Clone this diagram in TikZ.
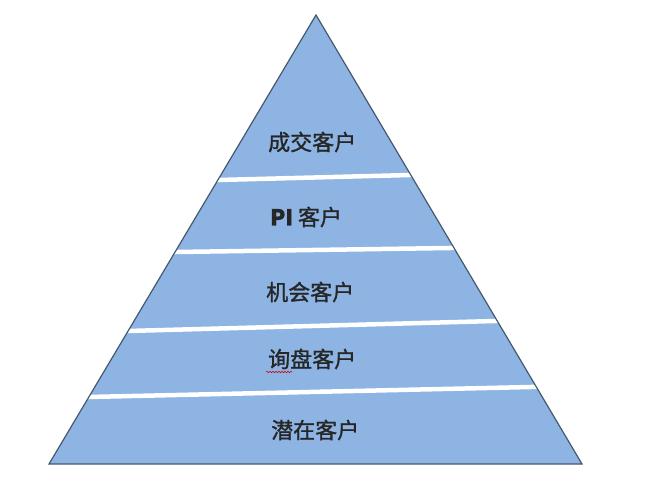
\documentclass[tikz,border=0pt]{standalone}
\usepackage{fontspec}
\newfontfamily\cjk[FakeBold=1.2]{Noto Sans CJK SC}
\newfontfamily\dejavu{DejaVu Sans}
\usetikzlibrary{decorations.pathmorphing}
\definecolor{pyrfill}{RGB}{141,180,226}
\definecolor{pyrline}{RGB}{70,88,110}
\begin{document}
\begin{tikzpicture}[x=1pt,y=-1pt,
  lbl/.style={font=\cjk\fontsize{22}{22}\selectfont, text=black!85, inner sep=0pt, anchor=west},
  ret/.style={font=\dejavu\fontsize{7}{7}\selectfont, text=gray!60, inner sep=0pt, anchor=west},
  sep/.style={white, line width=4.5pt},
  edge/.style={pyrline, line width=1.2pt, line join=miter}]
\useasboundingbox (0,0) rectangle (645,480);
\coordinate (A) at (316,15);
\coordinate (L) at (49,464);
\coordinate (R) at (582,464);
\fill[pyrfill] (A) -- (L) -- (R) -- cycle;
\begin{scope}
  \clip (A) -- (L) -- (R) -- cycle;
  \draw[sep] (199,180.5) -- (429,174.5);
  \draw[sep] (155,252.3) -- (470,247.7);
  \draw[sep] (109,331.5) -- (513,320.5);
  \draw[sep] (70,397.4) -- (553,386.5);
\end{scope}
\draw[edge] (A) -- (L) -- (R) -- cycle;
\node[lbl] (t1) at (268,142) {成交客户};
\node[lbl] (t2) at (270,217) {{\bfseries PI} 客户};
\node[lbl] (t3) at (266,292) {机会客户};
\node[lbl] (t4) at (268,359) {询盘客户};
\node[lbl] (t5) at (271,430) {潜在客户};
\node[ret] (r1) at ([shift={(4,3)}]t1.east) {↵};
\node[ret] (r2) at ([shift={(5,3)}]t2.east) {↵};
\node[ret] (r3) at ([shift={(4,3)}]t3.east) {↵};
\node[ret] (r4) at ([shift={(4,3)}]t4.east) {↵};
\node[ret] (r5) at ([shift={(5,3)}]t5.east) {↵};
\draw[red!80!black, line width=0.5pt, decorate, decoration={snake, amplitude=0.8pt, segment length=3pt}] (266,372) -- (292,372);
\end{tikzpicture}
\end{document}
